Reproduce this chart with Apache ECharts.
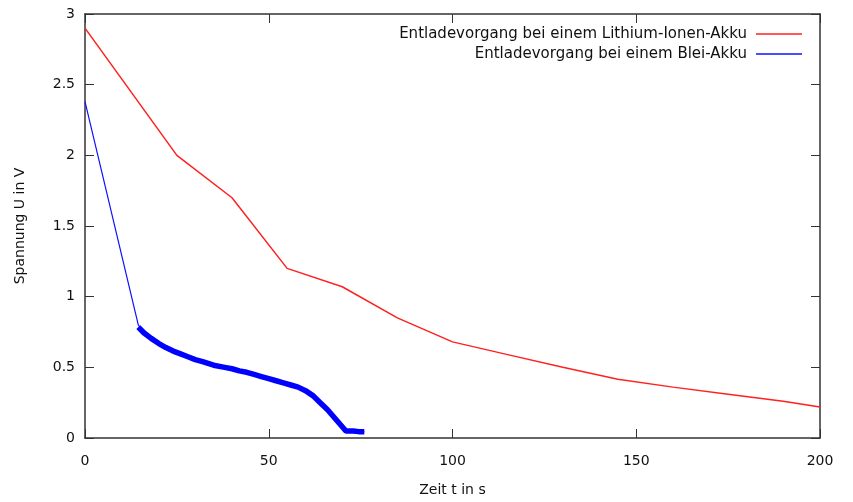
<!DOCTYPE html>
<html>
<head>
<meta charset="utf-8">
<script src="https://cdn.jsdelivr.net/npm/echarts@6/dist/echarts.min.js"></script>
<style>
  html, body { margin: 0; padding: 0; background: #fff; }
  #chart { width: 853px; height: 502px; }
</style>
</head>
<body>
<div id="chart"></div>
<script>
// Lithium-Ionen-Akku: Zeit (s) / Spannung (V)
const liZeit = [0, 25, 40, 55, 70, 85, 100, 115, 130, 145, 160, 175, 190, 200];
const liSpannung = [2.9, 2.0, 1.7, 1.2, 1.07, 0.85, 0.68, 0.59, 0.5, 0.415, 0.36, 0.31, 0.26, 0.22];

// Blei-Akku: steiler Abfall, danach Messreihe
const bleiZeit = [0, 14.5];
const bleiSpannung = [2.38, 0.8];
const messZeit = [14.5, 16, 18, 20, 22, 24, 26, 28, 30, 32, 35, 38, 40, 42, 44, 46, 48, 50, 52, 54, 56, 58, 60, 62, 64, 66, 68, 70, 71, 73, 74.5, 76];
const messSpannung = [0.785, 0.745, 0.705, 0.67, 0.64, 0.615, 0.595, 0.575, 0.555, 0.54, 0.515, 0.5, 0.49, 0.475, 0.465, 0.45, 0.435, 0.42, 0.405, 0.39, 0.375, 0.36, 0.335, 0.3, 0.25, 0.2, 0.14, 0.08, 0.05, 0.05, 0.045, 0.045];

const xTicks = [0, 50, 100, 150, 200];
const yTicks = [0, 0.5, 1, 1.5, 2, 2.5, 3];

const nameLi = 'Entladevorgang bei einem Lithium-Ionen-Akku';
const nameBlei = 'Entladevorgang bei einem Blei-Akku';

const pairs = (xs, ys) => xs.map((x, i) => [x, ys[i]]);
const bleiAlle = pairs(bleiZeit, bleiSpannung).concat(pairs(messZeit, messSpannung).slice(1));

const font = 'DejaVu Sans';
const axisColor = '#333';
const textColor = '#111';

const myChart = echarts.init(document.getElementById('chart'));

// gnuplot-Rahmen: Achsen auf allen vier Seiten, Ticks nach innen
function xAxis(position, extra) {
  return Object.assign({
    type: 'value',
    position: position,
    min: xTicks[0],
    max: xTicks[xTicks.length - 1],
    interval: 50,
    splitLine: { show: false },
    axisLine: { show: true, onZero: false, lineStyle: { color: axisColor, width: 1.5 } },
    axisTick: { show: true, inside: true, length: 9, lineStyle: { color: axisColor } },
    axisLabel: { show: false }
  }, extra);
}
function yAxis(position, extra) {
  return Object.assign({
    type: 'value',
    position: position,
    min: yTicks[0],
    max: yTicks[yTicks.length - 1],
    interval: 0.5,
    splitLine: { show: false },
    axisLine: { show: true, onZero: false, lineStyle: { color: axisColor, width: 1.5 } },
    axisTick: { show: true, inside: true, length: 9, lineStyle: { color: axisColor } },
    axisLabel: { show: false }
  }, extra);
}

myChart.setOption({
  animation: false,
  backgroundColor: '#fff',
  textStyle: { fontFamily: font },
  grid: { left: 85, right: 33, top: 14, bottom: 64 },
  legend: {
    data: [nameLi, nameBlei],
    orient: 'vertical',
    align: 'right',
    right: 46,
    top: 21,
    icon: 'rect',
    itemWidth: 46,
    itemHeight: 1.5,
    itemGap: 4,
    textStyle: { fontFamily: font, fontSize: 15, color: textColor, lineHeight: 16, padding: [0, 4, 0, 0] }
  },
  xAxis: [
    xAxis('bottom', {
      name: 'Zeit t in s',
      nameLocation: 'middle',
      nameGap: 45,
      nameTextStyle: { fontFamily: font, fontSize: 14, color: textColor },
      axisLabel: { show: true, margin: 16, fontFamily: font, fontSize: 14, color: textColor }
    }),
    xAxis('top', {})
  ],
  yAxis: [
    yAxis('left', {
      name: 'Spannung U in V',
      nameLocation: 'middle',
      nameGap: 58,
      nameRotate: 90,
      nameTextStyle: { fontFamily: font, fontSize: 14, color: textColor },
      axisLabel: { show: true, margin: 10, fontFamily: font, fontSize: 14, color: textColor }
    }),
    yAxis('right', {})
  ],
  series: [
    {
      name: nameLi,
      type: 'line',
      symbol: 'none',
      data: pairs(liZeit, liSpannung),
      lineStyle: { color: '#ff2020', width: 1.5 },
      itemStyle: { color: '#ff2020' }
    },
    {
      name: nameBlei,
      type: 'line',
      symbol: 'none',
      data: bleiAlle,
      lineStyle: { color: '#1010ff', width: 1.2 },
      itemStyle: { color: '#1010ff' }
    },
    {
      // Messrauschen als breites Band
      name: 'messung',
      type: 'line',
      symbol: 'none',
      data: pairs(messZeit, messSpannung),
      lineStyle: { color: '#0000ff', width: 5.5 },
      itemStyle: { color: '#0000ff' }
    }
  ]
});
</script>
</body>
</html>
